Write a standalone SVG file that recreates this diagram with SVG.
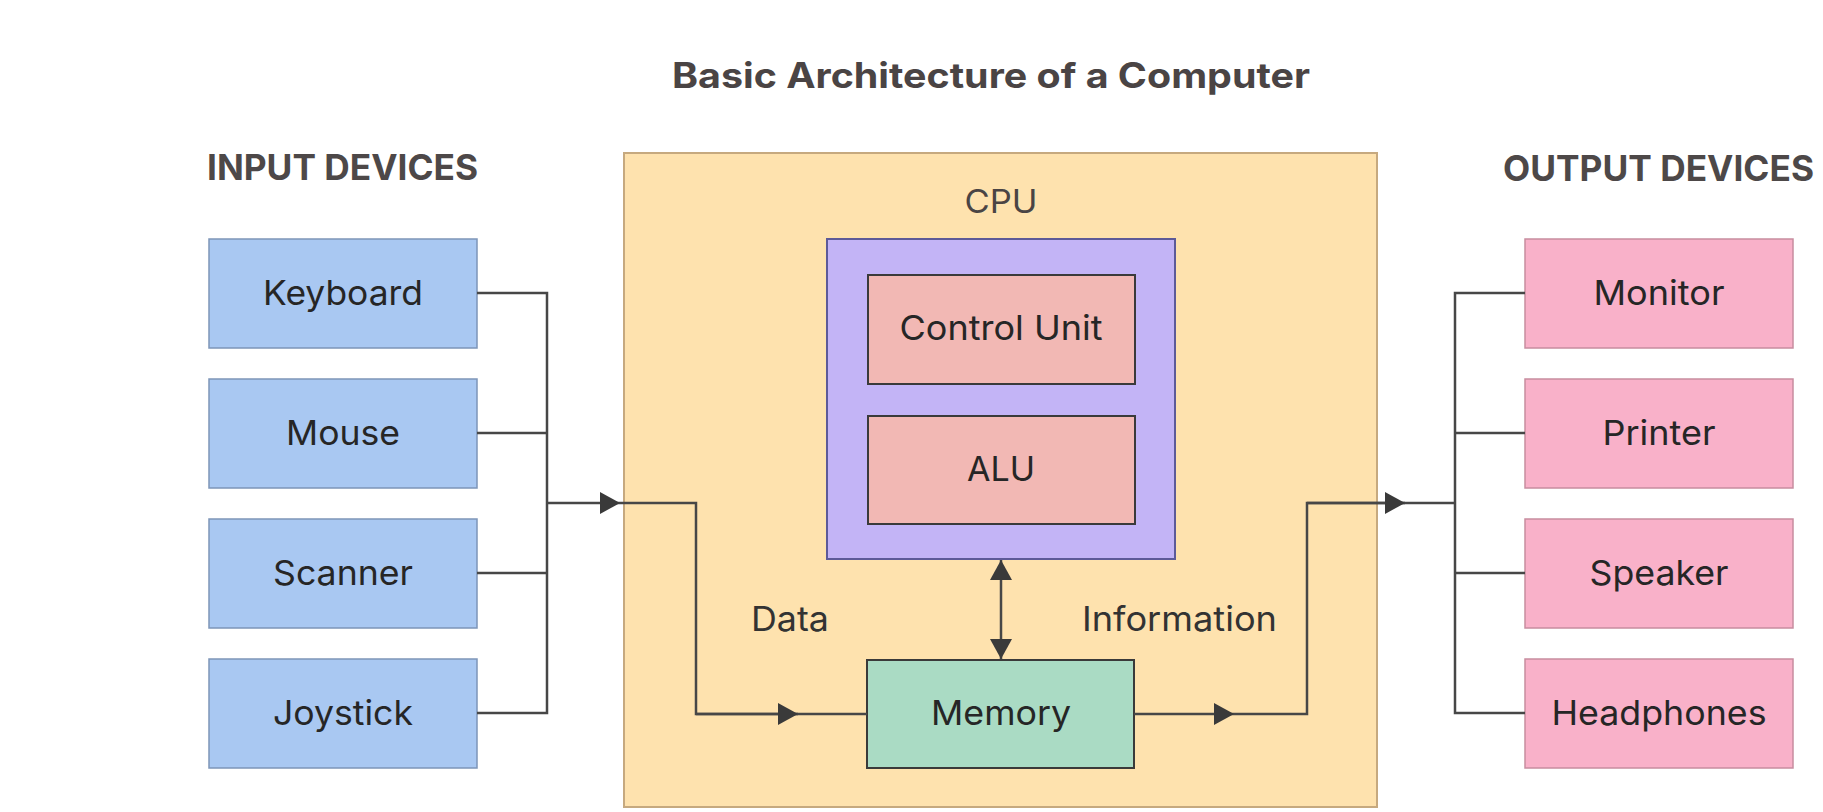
<svg xmlns="http://www.w3.org/2000/svg" width="1823" height="812" viewBox="0 0 1823 812">
<style>
text{font-family:Inter,"Liberation Sans","DejaVu Sans",sans-serif}
.ttl{font-size:35px;font-weight:700;fill:#4a4444}
.hd{font-size:35px;font-weight:700;fill:#4d4848}
.lbl{font-size:34px;fill:#262626;text-anchor:middle}
.cap{font-size:34px;fill:#333}
.in{fill:#a9c8f2;stroke:#7d95b8;stroke-width:1.5}
.out{fill:#f9b1c9;stroke:#c78d9f;stroke-width:1.5}
.cpu{fill:#fee2ae;stroke:#c6a97f;stroke-width:2}
.reg{fill:#c3b4f6;stroke:#5d5a98;stroke-width:2}
.unit{fill:#f2b8b4;stroke:#3a3a3a;stroke-width:2}
.mem{fill:#aadbc4;stroke:#3a3a3a;stroke-width:2}
.ln{fill:none;stroke:#474747;stroke-width:2.5}
</style>
<defs>
<marker id="ah" viewBox="0 0 20 22" refX="20" refY="11" markerWidth="20" markerHeight="22" markerUnits="userSpaceOnUse" orient="auto-start-reverse">
<path d="M0,0 L20,11 L0,22 z" fill="#3a3a3a"/>
</marker>
</defs>
<rect width="1823" height="812" fill="#ffffff"/>
<text class="ttl" x="991" y="88" text-anchor="middle" textLength="638" lengthAdjust="spacingAndGlyphs">Basic Architecture of a Computer</text>
<text class="hd" x="207" y="180" textLength="271" lengthAdjust="spacingAndGlyphs">INPUT DEVICES</text>
<text class="hd" x="1503" y="181" textLength="311" lengthAdjust="spacingAndGlyphs">OUTPUT DEVICES</text>

<g id="cpu">
<rect class="cpu" x="624" y="153" width="753" height="654"/>
<text x="1001" y="213" text-anchor="middle" style="font-size:32px;fill:#4a4444" textLength="73" lengthAdjust="spacingAndGlyphs">CPU</text>
</g>
<g id="processor">
<rect class="reg" x="827" y="239" width="348" height="320"/>
</g>
<g id="control-unit">
<rect class="unit" x="868" y="275" width="267" height="109"/>
<text class="lbl" x="1001" y="340" textLength="203" lengthAdjust="spacingAndGlyphs">Control Unit</text>
</g>
<g id="alu">
<rect class="unit" x="868" y="416" width="267" height="108"/>
<text class="lbl" x="1001" y="481" textLength="68" lengthAdjust="spacingAndGlyphs">ALU</text>
</g>
<g id="memory">
<rect class="mem" x="867" y="660" width="267" height="108"/>
<text class="lbl" x="1001" y="725" textLength="140" lengthAdjust="spacingAndGlyphs">Memory</text>
</g>

<g id="keyboard"><rect class="in" x="209" y="239" width="268" height="109"/><text class="lbl" x="343" y="305" textLength="160" lengthAdjust="spacingAndGlyphs">Keyboard</text></g>
<g id="mouse"><rect class="in" x="209" y="379" width="268" height="109"/><text class="lbl" x="343" y="445" textLength="114" lengthAdjust="spacingAndGlyphs">Mouse</text></g>
<g id="scanner"><rect class="in" x="209" y="519" width="268" height="109"/><text class="lbl" x="343" y="585" textLength="140" lengthAdjust="spacingAndGlyphs">Scanner</text></g>
<g id="joystick"><rect class="in" x="209" y="659" width="268" height="109"/><text class="lbl" x="343" y="725" textLength="140" lengthAdjust="spacingAndGlyphs">Joystick</text></g>

<g id="monitor"><rect class="out" x="1525" y="239" width="268" height="109"/><text class="lbl" x="1659" y="305" textLength="131" lengthAdjust="spacingAndGlyphs">Monitor</text></g>
<g id="printer"><rect class="out" x="1525" y="379" width="268" height="109"/><text class="lbl" x="1659" y="445" textLength="113" lengthAdjust="spacingAndGlyphs">Printer</text></g>
<g id="speaker"><rect class="out" x="1525" y="519" width="268" height="109"/><text class="lbl" x="1659" y="585" textLength="139" lengthAdjust="spacingAndGlyphs">Speaker</text></g>
<g id="headphones"><rect class="out" x="1525" y="659" width="268" height="109"/><text class="lbl" x="1659" y="725" textLength="215" lengthAdjust="spacingAndGlyphs">Headphones</text></g>

<g id="connectors">
<path class="ln" d="M477,293 H547 V713 H477 M477,433 H547 M477,573 H547"/>
<path class="ln" d="M547,503 H620" marker-end="url(#ah)"/>
<path class="ln" d="M620,503 H696 V714 H867"/>
<path class="ln" d="M696,714 H798" marker-end="url(#ah)"/>
<path class="ln" d="M1134,714 H1234" marker-end="url(#ah)"/>
<path class="ln" d="M1234,714 H1307 V503 H1455"/>
<path class="ln" d="M1307,503 H1405" marker-end="url(#ah)"/>
<path class="ln" d="M1525,293 H1455 V713 H1525 M1455,433 H1525 M1455,573 H1525"/>
<path class="ln" d="M1001,560 V659" marker-start="url(#ah)" marker-end="url(#ah)"/>
<text class="cap" x="751" y="631" textLength="78" lengthAdjust="spacingAndGlyphs">Data</text>
<text class="cap" x="1082" y="631" textLength="195" lengthAdjust="spacingAndGlyphs">Information</text>
</g>
</svg>
